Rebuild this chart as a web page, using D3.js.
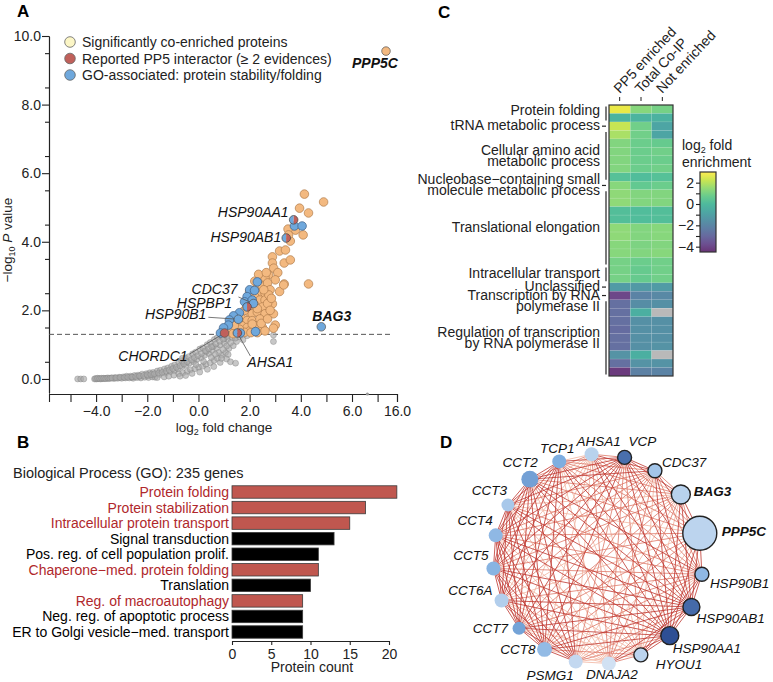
<!DOCTYPE html>
<html>
<head>
<meta charset="utf-8">
<script src="https://cdn.jsdelivr.net/npm/d3@7"></script>
<style>
body { margin: 0; background: #fff; }
svg { font-family: "Liberation Sans", Arial, Helvetica, sans-serif; }
</style>
</head>
<body>
<svg id="fig" width="773" height="682"></svg>
<script>
// ---------- A: volcano data, [log2 fold change, -log10 P] ----------
var legendLabels = ["Significantly co-enriched proteins",
                    "Reported PP5 interactor (\u2265 2 evidences)",
                    "GO-associated: protein stability/folding"];

var backgroundPoints = [
  [-4.72,0],[-4.6,0],[-4.48,0],[-4.06,0],[-3.98,0],[-3.9,0.01],[-3.82,0],[-3.74,0.01],[-3.66,0.01],
  [-3.58,0.02],[-3.5,0.01],[-3.3,0.01],[-3.15,0.02],[-3.0,0.02],[-2.85,0.03],[-2.7,0.03],[-2.55,0.02],
  [-2.4,0.04],[-2.25,0.03],[-2.1,0.05],[-1.95,0.04],[-1.8,0.06],[-1.7,0.05],
  [-3.4,0.03],[-3.26,0.04],[-3.1,0.05],[-2.94,0.06],[-2.81,0.08],[-2.66,0.08],[-2.5,0.1],[-2.36,0.11],
  [-2.2,0.14],[-2.04,0.15],[-1.9,0.18],[-1.77,0.19],[-1.61,0.23],[-1.49,0.25],[-1.33,0.29],[-1.2,0.32],
  [-1.05,0.37],[-0.93,0.41],[-0.77,0.48],[-0.66,0.53],[-0.51,0.61],[-0.38,0.65],[-0.23,0.73],[-0.11,0.78],
  [0.05,0.87],[0.17,0.91],[0.34,1.0],[0.46,1.06],[0.62,1.15],[0.73,1.2],[0.89,1.27],
  [-2.6,0.05],[-2.31,0.07],[-1.98,0.09],[-1.76,0.12],[-1.52,0.13],[-1.29,0.17],[-1.1,0.21],[-0.94,0.24],
  [-0.81,0.3],[-0.64,0.36],[-0.49,0.4],[-0.36,0.46],[-0.19,0.5],[-0.06,0.57],[0.11,0.62],[0.24,0.69],
  [0.41,0.74],[0.54,0.83],[0.71,0.9],[0.84,0.99],[1.01,1.05],[1.14,1.15],[1.31,1.21],
  [-1.61,0.04],[-1.34,0.06],[-1.16,0.08],[-0.96,0.11],[-0.77,0.15],[-0.61,0.18],[-0.44,0.22],[-0.31,0.27],
  [-0.14,0.3],[0.01,0.34],[0.16,0.37],[0.29,0.43],[0.46,0.47],[0.61,0.54],[0.74,0.6],[0.91,0.69],
  [1.06,0.77],[1.19,0.89],[1.36,0.97],[1.49,1.09],
  [0.2,0.51],[0.5,0.63],[0.79,0.77],[1.1,0.96],[1.26,1.06],[1.44,1.19],[1.61,1.23],[1.74,1.14],
  [1.9,1.26],[0.66,0.72],[0.96,0.86],[1.16,0.71],[-0.1,0.42],[0.3,0.8],[0.58,0.95],[1.0,1.18],
  [-4.02,0.01],[-3.94,0.02],[-3.86,0.01],[-3.78,0.02],[-3.7,0.02],[-3.62,0.01],[-3.54,0.03],[-3.46,0.02],
  [-3.38,0.03],[-3.22,0.03],[-3.06,0.04],[-2.9,0.04],[-2.76,0.05],[-2.6,0.06],[-2.45,0.07],[-2.3,0.09],
  [-2.14,0.1],[-2.0,0.12],[-1.86,0.13],[-1.72,0.15],[-1.56,0.17],[-1.42,0.19],[-1.26,0.23],[-1.14,0.26],
  [-1.0,0.3],[-0.86,0.34],[-0.72,0.38],[-0.57,0.44],[-0.44,0.5],[-0.28,0.56],[-0.16,0.62],[-0.02,0.68],
  [0.12,0.74],[0.27,0.82],[0.4,0.88],[0.52,0.94],[0.68,1.02],[0.83,1.1],[0.97,1.16],[1.12,1.24],
  [-0.72,0.08],[-0.5,0.1],[-0.25,0.16],[0.05,0.2],[0.35,0.28],[0.6,0.36],[0.85,0.48],[1.1,0.58],
  [-0.63,0.6],[0.9,0.6],[1.25,0.5],[1.45,0.46],[2.93,1.28],[2.93,1.09]
];

var enrichedPoints = [
  [4.14,5.39],[4.89,5.16],[3.95,4.98],[4.3,4.84],[3.79,4.34],[3.5,4.37],[4.09,4.2],[3.59,4.02],[3.52,4.2],
  [3.17,3.73],[3.4,3.76],[2.89,3.56],[2.89,3.38],[3.35,3.38],[3.59,3.47],[2.94,3.23],[3.1,3.1],[2.74,3.03],
  [2.42,3.0],[3.0,2.89],[3.35,2.77],[4.3,2.77],[3.17,2.55],[3.33,2.74],[2.89,2.19],[2.93,1.9],[3.0,1.57],
  [2.93,1.48],[2.5,2.9],[2.6,2.95],[2.3,2.7],[2.5,2.7],[2.7,2.8],[2.4,2.5],[2.6,2.5],[2.8,2.6],[2.2,2.4],
  [2.4,2.3],[2.6,2.3],[2.0,2.2],[2.2,2.15],[2.5,2.1],[2.7,2.2],[1.95,1.95],[2.1,1.9],[2.3,1.95],[2.6,1.9],
  [2.8,2.0],[1.7,1.75],[1.9,1.7],[2.1,1.7],[2.4,1.75],[2.2,1.55],[1.5,1.6],[1.7,1.55],[1.9,1.5],[2.5,1.5],
  [1.3,1.45],[1.5,1.4],[2.0,1.4],[2.3,1.35],[1.2,1.38],[1.8,1.36],[2.6,1.4],[2.1,1.6],[2.45,1.62],
  [2.3,2.05],[2.0,2.55],[2.2,2.85],[2.35,3.05],[2.65,3.1],[1.6,1.45],[1.4,1.55],[2.75,2.45],[2.55,2.6],
  [2.85,2.35],[2.7,1.75],[1.8,2.0],[2.05,1.35],[1.35,1.32]
];

var foldingPoints = [
  [3.75,4.46],[4.05,4.46],[2.3,2.83],[2.0,2.6],[2.19,2.58],[1.9,2.4],[1.8,2.25],[2.1,2.3],[1.6,1.93],
  [1.37,1.84],[1.21,1.72],[1.17,1.57],[0.98,1.49],[0.86,1.34],[1.64,1.34],[2.23,1.38]
];

var namedGenes = ["PPP5C","HSP90AA1","HSP90AB1","CDC37","HSPBP1","HSP90B1","CHORDC1","AHSA1","BAG3"];
var namedFC    = [10.9, 3.72, 3.43, 2.15, 1.9, 1.56, 1.02, 1.52, 4.8];
var namedP     = [9.56, 4.64, 4.11, 2.2, 2.1, 1.74, 1.34, 1.34, 1.52];
var namedKind  = ["enriched","both","both","folding","both","folding","interactor","both","folding"];

var fcTicks = [-5,-4,-3,-2,-1,0,1,2,3,4,5,6,7,16];
var fcTickLabels = [-4,-2,0,2,4,6,16];
var pTicks = [0,2,4,6,8,10];

// ---------- B: GO biological process ----------
var goTerms = ["Protein folding","Protein stabilization","Intracellular protein transport",
  "Signal transduction","Pos. reg. of cell population prolif.","Chaperone\u2212med. protein folding",
  "Translation","Reg. of macroautophagy","Neg. reg. of apoptotic process",
  "ER to Golgi vesicle\u2212med. transport"];
var goCounts  = [21,17,15,13,11,11,10,9,9,9];
var goFolding = [true,true,true,false,false,true,false,true,false,false];
var countTicks = [0,5,10,15,20];

// ---------- C: heatmap, log2 fold enrichment ----------
var heatColumns = ["PP5 enriched","Total Co-IP","Not enriched"];
var heatGroups = [["Protein folding"],["tRNA metabolic process"],["Cellular amino acid","metabolic process"],
  ["Nucleobase\u2212containing small","molecule metabolic process"],["Translational elongation"],
  ["Intracellular transport"],["Unclassified"],["Transcription by RNA","polymerase II"],
  ["Regulation of transcription","by RNA polymerase II"]];
var heatGroupRows = [2,1,6,1,9,2,1,1,9];
var pp5Enriched = [2.7,-0.2,2.2,1.8,1.2,1.2,1.2,1.2,0.3,1.3,1.4,1.4,0.2,0.2,1.4,1.4,1.3,1.3,1.0,1.0,1.0,
  -1.2,-4.0,-2.8,-2.8,-2.8,-2.9,-2.8,-2.8,-1.5,-2.8,-4.3];
var totalCoIP = [1.3,-0.2,0.9,0.9,0.8,0.8,0.8,0.8,0.1,0.6,1.2,1.2,0.1,0.1,1.2,1.2,1.1,1.2,0.8,0.7,0.7,
  -1.3,-2.1,-1.7,-0.4,-1.6,-1.6,-1.6,-1.6,-0.4,-1.5,-2.2];
var notEnriched = [1.0,-0.3,-0.8,-0.8,0.7,0.9,0.8,0.9,0.3,0.8,1.2,1.2,0.2,0.2,1.3,1.3,1.2,1.3,0.9,0.9,0.9,
  -1.2,-1.9,-1.6,null,-1.6,-1.6,-1.6,-1.5,null,-1.5,-2.1];
var colorTicks = [-4,-3,-2,-1,0,1,2];

// ---------- D: interaction network ----------
var netGenes = ["AHSA1","VCP","CDC37","BAG3","PPP5C","HSP90B1","HSP90AB1","HSP90AA1","HYOU1",
  "DNAJA2","PSMG1","CCT8","CCT7","CCT6A","CCT5","CCT4","CCT3","CCT2","TCP1"];
var netSize     = [49,49,49,90,289,49,72,81,49,49,49,56,42,49,49,49,42,72,49];
var netShade    = [0.22,0.78,0.32,0.22,0.2,0.42,0.8,0.92,0.2,0.1,0.17,0.4,0.55,0.25,0.45,0.42,0.3,0.56,0.5];
var netEnriched = [false,true,true,true,true,true,true,true,true,false,false,false,false,false,false,false,false,false,false];
// edge strength to every later gene (0 none, 1 weak, 2 medium, 3 strong)
var netEdges = ["231223312111111121","33233322233333333","2323312122222232","323312122122122",
  "33321122122122","3332122222232","333233333333","33233333333","2121111121","111111111",
  "33333333","3333333","333333","33333","3333","333","33","3"];

// ---------- drawing ----------
var svg = d3.select("#fig");
var ink = "#222";

function styleAxis(g, size) {
  g.attr("font-family", null).attr("font-size", size);
  g.selectAll("path, line").attr("stroke", ink).attr("stroke-width", 1.1);
  g.selectAll("text").attr("fill", ink);
}

[["A",17,17],["B",17,448],["C",438,18],["D",440,448]].forEach(function (l) {
  svg.append("text").attr("x", l[1]).attr("y", l[2]).attr("font-size", 17)
     .attr("font-weight", "bold").text(l[0]);
});

// ===== Panel A =====
var x = d3.scaleLinear().domain([-5.84, 7, 16]).range([49, 377.6, 397]);
var y = d3.scaleLinear().domain([-0.41, 10]).range([393, 36]);
var gA = svg.append("g");

var xAxis = gA.append("g").attr("transform", "translate(0,394)")
  .call(d3.axisBottom(x).tickValues(fcTicks).tickSizeOuter(0).tickSize(8).tickPadding(4)
    .tickFormat(function (d) { return fcTickLabels.indexOf(d) >= 0 ? d3.format(".1f")(d) : ""; }));
styleAxis(xAxis, 14);

var yMinor = gA.append("g").attr("transform", "translate(49,0)")
  .call(d3.axisLeft(y).tickValues(d3.range(0.5, 10, 1)).tickSize(4).tickFormat("").tickSizeOuter(0));
styleAxis(yMinor, 14);
var yAxis = gA.append("g").attr("transform", "translate(49,0)")
  .call(d3.axisLeft(y).tickValues(pTicks).tickSize(7).tickPadding(1).tickSizeOuter(0)
    .tickFormat(d3.format(".1f")));
styleAxis(yAxis, 14);

var yl = gA.append("text").attr("transform", "translate(12,240) rotate(-90)")
  .attr("text-anchor", "middle").attr("font-size", 13.5).attr("fill", ink);
yl.append("tspan").text("\u2212log");
yl.append("tspan").attr("font-size", 9).attr("dy", 3).text("10");
yl.append("tspan").attr("dy", -3).text(" ");
yl.append("tspan").attr("font-style", "italic").text("P");
yl.append("tspan").text(" value");

var xl = gA.append("text").attr("x", 224).attr("y", 432)
  .attr("text-anchor", "middle").attr("font-size", 13.5).attr("fill", ink);
xl.append("tspan").text("log");
xl.append("tspan").attr("font-size", 9).attr("dy", 3).text("2");
xl.append("tspan").attr("dy", -3).text(" fold change");

gA.append("line").attr("x1", 49).attr("x2", 390).attr("y1", y(1.3)).attr("y2", y(1.3))
  .attr("stroke", "#555").attr("stroke-width", 1).attr("stroke-dasharray", "5,3");

var colOrange = "#f3b980", colBlue = "#6fa8dc", colRed = "#c0605a", colYellow = "#fcf6c6";

gA.append("g").selectAll("circle").data(backgroundPoints).enter().append("circle")
  .attr("cx", function (d) { return x(d[0]); })
  .attr("cy", function (d) { return y(d[1]); })
  .attr("r", 3)
  .attr("fill", "#a9a9a9").attr("fill-opacity", 0.65)
  .attr("stroke", "#7d7d7d").attr("stroke-opacity", 0.65).attr("stroke-width", 0.6);

gA.append("circle").attr("cx", x(6.6)).attr("cy", 394).attr("r", 1.6).attr("fill", "#999");

gA.append("g").selectAll("circle").data(enrichedPoints).enter().append("circle")
  .attr("cx", function (d) { return x(d[0]); })
  .attr("cy", function (d) { return y(d[1]); })
  .attr("r", 4.3).attr("fill", colOrange).attr("stroke", "#b07c4c").attr("stroke-width", 0.7);

gA.append("g").selectAll("circle").data(foldingPoints).enter().append("circle")
  .attr("cx", function (d) { return x(d[0]); })
  .attr("cy", function (d) { return y(d[1]); })
  .attr("r", 4.3).attr("fill", colBlue).attr("stroke", "#3d5f85").attr("stroke-width", 0.7);

// labelled genes
var labelPos = {
  PPP5C: [-34, 17, "start"], HSP90AA1: [-5, -3, "end"], HSP90AB1: [-5, 4, "end"],
  CDC37: [-16, -9.5, "end"], HSPBP1: [-15, 1, "end"], HSP90B1: [-32, 0, "end"],
  CHORDC1: [-37, 28, "end"], AHSA1: [10, 34, "start"], BAG3: [-9, -6, "start"]
};
var leaderStart = { CDC37: [1, 3], HSP90B1: [2, -2], CHORDC1: [2, -7], AHSA1: [3, -11] };
var named = namedGenes.map(function (g, i) {
  return { gene: g, px: x(namedFC[i]), py: y(namedP[i]), kind: namedKind[i] };
});
var halfArc = d3.arc().innerRadius(0).outerRadius(4.3);

named.forEach(function (d) {
  var p = labelPos[d.gene];
  if (leaderStart[d.gene]) {
    var s = leaderStart[d.gene];
    gA.append("line").attr("x1", d.px + p[0] + s[0]).attr("y1", d.py + p[1] + s[1])
      .attr("x2", d.px).attr("y2", d.py).attr("stroke", "#555").attr("stroke-width", 0.8);
  }
});
named.forEach(function (d) {
  var g = gA.append("g").attr("transform", "translate(" + d.px + "," + d.py + ")");
  if (d.kind === "both") {
    g.append("path").attr("d", halfArc({ startAngle: Math.PI, endAngle: 2 * Math.PI })).attr("fill", colBlue);
    g.append("path").attr("d", halfArc({ startAngle: 0, endAngle: Math.PI })).attr("fill", colRed);
    g.append("circle").attr("r", 4.3).attr("fill", "none").attr("stroke", "#444").attr("stroke-width", 0.7);
  } else {
    var fill = d.kind === "enriched" ? colOrange : d.kind === "folding" ? colBlue : colRed;
    g.append("circle").attr("r", 4.3).attr("fill", fill).attr("stroke", "#555").attr("stroke-width", 0.7);
  }
});
named.forEach(function (d) {
  var p = labelPos[d.gene];
  gA.append("text").attr("x", d.px + p[0]).attr("y", d.py + p[1]).attr("text-anchor", p[2])
    .attr("font-size", 14).attr("font-style", "italic")
    .attr("font-weight", d.gene === "PPP5C" || d.gene === "BAG3" ? "bold" : null)
    .attr("fill", "#111").text(d.gene);
});

var legendFill = [colYellow, colRed, colBlue];
legendLabels.forEach(function (t, i) {
  gA.append("circle").attr("cx", 70).attr("cy", 42 + i * 16.5).attr("r", 5.3)
    .attr("fill", legendFill[i]).attr("stroke", "#666").attr("stroke-width", 0.8);
  gA.append("text").attr("x", 82).attr("y", 47 + i * 16.5).attr("font-size", 14)
    .attr("fill", ink).text(t);
});

// ===== Panel B =====
var gB = svg.append("g");
var xb = d3.scaleLinear().domain([0, 20]).range([232, 389]);
var yb = d3.scaleBand().domain(goTerms).range([485, 639]).paddingInner(0.2).paddingOuter(0.05);

gB.append("text").attr("x", 13).attr("y", 478).attr("font-size", 14.5).attr("fill", ink)
  .text("Biological Process (GO): 235 genes");

gB.selectAll("rect").data(goTerms).enter().append("rect")
  .attr("x", xb(0)).attr("y", function (d) { return yb(d); })
  .attr("width", function (d, i) { return xb(goCounts[i]) - xb(0); })
  .attr("height", yb.bandwidth())
  .attr("fill", function (d, i) { return goFolding[i] ? "#c0574f" : "#000"; })
  .attr("stroke", "#3a3a3a").attr("stroke-width", 0.8);

gB.selectAll("text.term").data(goTerms).enter().append("text").attr("class", "term")
  .attr("x", 229).attr("y", function (d) { return yb(d) + yb.bandwidth() / 2 + 5; })
  .attr("text-anchor", "end").attr("font-size", 14)
  .attr("fill", function (d, i) { return goFolding[i] ? "#b0282c" : "#000"; })
  .text(function (d) { return d; });

var xbAxis = gB.append("g").attr("transform", "translate(0,641)")
  .call(d3.axisBottom(xb).tickValues(countTicks).tickSize(4).tickPadding(4).tickSizeOuter(0));
styleAxis(xbAxis, 14);
gB.append("text").attr("x", 312).attr("y", 672).attr("text-anchor", "middle")
  .attr("font-size", 14).attr("fill", ink).text("Protein count");

// ===== Panel C =====
var gC = svg.append("g");
var nRows = pp5Enriched.length;
var hx = d3.scaleBand().domain(heatColumns).range([609, 673]);
var hy = d3.scaleBand().domain(d3.range(nRows)).range([105, 376]);
var heatColor = d3.scaleSequential(d3.interpolateViridis).domain([-4.5, 3]);
var heatValues = [pp5Enriched, totalCoIP, notEnriched];

heatColumns.forEach(function (c, ci) {
  gC.append("g").selectAll("rect").data(heatValues[ci]).enter().append("rect")
    .attr("x", hx(c)).attr("y", function (d, r) { return hy(r); })
    .attr("width", hx.bandwidth()).attr("height", hy.bandwidth())
    .attr("fill", function (d) { return d === null ? "#b9b9b9" : heatColor(d); })
    .attr("fill-opacity", function (d) { return d === null ? 1 : 0.8; })
    .attr("stroke", "#fff").attr("stroke-opacity", 0.18).attr("stroke-width", 0.5);
  gC.append("line").attr("x1", hx(c) + hx.bandwidth() / 2).attr("x2", hx(c) + hx.bandwidth() / 2)
    .attr("y1", 97).attr("y2", 101).attr("stroke", ink).attr("stroke-width", 1);
  gC.append("text")
    .attr("transform", "translate(" + (hx(c) + hx.bandwidth() / 2) + ",94) rotate(-47)")
    .attr("font-size", 14).attr("fill", ink).text(c);
});
gC.append("rect").attr("x", 609).attr("y", 105).attr("width", 64).attr("height", 271)
  .attr("fill", "none").attr("stroke", "#333").attr("stroke-width", 1.2);

var rowStart = 0;
var groupShift = { 0: -2.5, 7: 5 };
heatGroups.forEach(function (lines, gi) {
  var n = heatGroupRows[gi];
  var top = hy(rowStart), bottom = hy(rowStart + n - 1) + hy.bandwidth();
  var mid = (top + bottom) / 2;
  if (n > 1) {
    gC.append("line").attr("x1", 606).attr("x2", 606).attr("y1", top + 1.5).attr("y2", bottom - 1.5)
      .attr("stroke", ink).attr("stroke-width", 1.2);
  } else {
    gC.append("line").attr("x1", 602).attr("x2", 606).attr("y1", mid).attr("y2", mid)
      .attr("stroke", ink).attr("stroke-width", 1.2);
  }
  var shift = groupShift[gi] || 0;
  lines.forEach(function (t, li) {
    var base = lines.length === 1 ? mid + 4 : mid - 1 + li * 11;
    gC.append("text").attr("x", 600).attr("y", base + shift).attr("text-anchor", "end")
      .attr("font-size", 14).attr("fill", ink).text(t);
  });
  rowStart += n;
});

// colour bar
var cb = d3.scaleLinear().domain([-4.5, 3]).range([252, 172]);
var grad = svg.append("defs").append("linearGradient").attr("id", "vir")
  .attr("x1", 0).attr("x2", 0).attr("y1", 1).attr("y2", 0);
d3.range(0, 1.0001, 0.1).forEach(function (t) {
  grad.append("stop").attr("offset", t).attr("stop-color", heatColor(-4.5 + t * 7.5));
});
gC.append("rect").attr("x", 700).attr("y", 172).attr("width", 16).attr("height", 80)
  .attr("fill", "url(#vir)").attr("fill-opacity", 0.8)
  .attr("stroke", "#333").attr("stroke-width", 1.2);
var cbAxis = gC.append("g").attr("transform", "translate(700,0)")
  .call(d3.axisLeft(cb).tickValues(colorTicks).tickSize(4).tickPadding(2).tickSizeOuter(0)
    .tickFormat(function (d) { return d % 2 === 0 ? d3.format("d")(d) : ""; }));
styleAxis(cbAxis, 14);
cbAxis.select(".domain").remove();
var cbt = gC.append("text").attr("x", 682).attr("y", 150).attr("font-size", 14).attr("fill", ink);
cbt.append("tspan").text("log");
cbt.append("tspan").attr("font-size", 9).attr("dy", 3).text("2");
cbt.append("tspan").attr("dy", -3).text(" fold");
gC.append("text").attr("x", 682).attr("y", 167).attr("font-size", 14).attr("fill", ink).text("enrichment");

// ===== Panel D =====
var gD = svg.append("g");
var rNode = d3.scaleSqrt().domain([0, 289]).range([0, 17]);
var nodeColor = d3.scaleLinear().domain([0, 0.5, 1]).range(["#e6eef8", "#7eaee0", "#1f3d85"]);
// angular spacing grows with node size so large nodes get more room
var arcLen = [0];
netGenes.forEach(function (g, i) {
  var j = (i + 1) % netGenes.length;
  arcLen.push(arcLen[i] + 27 + rNode(netSize[i]) + rNode(netSize[j]));
});
var angle = d3.scaleLinear().domain([0, arcLen[arcLen.length - 1]]).range([-93.5, 266.5]);
var cx = 598, cy = 559, R = 105;
var nodes = netGenes.map(function (g, i) {
  var a = angle(arcLen[i]) * Math.PI / 180;
  return { gene: g, x: cx + R * Math.cos(a), y: cy + R * Math.sin(a), r: rNode(netSize[i]),
           fill: nodeColor(netShade[i]), ring: netEnriched[i] };
});

var edges = [];
netEdges.forEach(function (row, i) {
  row.split("").forEach(function (w, k) {
    if (+w > 0) edges.push({ s: nodes[i], t: nodes[i + k + 1], w: +w });
  });
});
edges.sort(function (a, b) { return a.w - b.w; });
var edgeColor = ["none", "#f2b9a6", "#df7a6a", "#c0372f"];
var edgeOpacity = [0, 0.9, 0.85, 0.85];
gD.selectAll("line").data(edges).enter().append("line")
  .attr("x1", function (d) { return d.s.x; }).attr("y1", function (d) { return d.s.y; })
  .attr("x2", function (d) { return d.t.x; }).attr("y2", function (d) { return d.t.y; })
  .attr("stroke", function (d) { return edgeColor[d.w]; })
  .attr("stroke-opacity", function (d) { return edgeOpacity[d.w]; })
  .attr("stroke-width", 0.95);

gD.selectAll("circle").data(nodes).enter().append("circle")
  .attr("cx", function (d) { return d.x; }).attr("cy", function (d) { return d.y; })
  .attr("r", function (d) { return d.r; })
  .attr("fill", function (d) { return d.fill; })
  .attr("stroke", function (d) { return d.ring ? "#222" : "none"; })
  .attr("stroke-width", 1.4);

var netLabel = {
  AHSA1: [7, -8, "middle"], VCP: [4, -11, "start"], CDC37: [7, -4, "start"], BAG3: [13, 2, "start"],
  PPP5C: [22, 3, "start"], HSP90B1: [8, 14, "start"], HSP90AB1: [5, 16, "start"],
  HSP90AA1: [3, 17, "start"], HYOU1: [15, 14, "start"], DNAJA2: [3, 16, "middle"],
  PSMG1: [-2, 18, "end"], CCT8: [-9, 5, "end"], CCT7: [-11, 5, "end"], CCT6A: [-9, -6, "end"],
  CCT5: [-5, -8, "end"], CCT4: [-3, -10, "end"], CCT3: [-1, -10, "end"], CCT2: [8, -12, "end"],
  TCP1: [-2, -8, "middle"]
};
nodes.forEach(function (d) {
  var p = netLabel[d.gene];
  gD.append("text").attr("x", d.x + p[0]).attr("y", d.y + p[1]).attr("text-anchor", p[2])
    .attr("font-size", 13.5).attr("font-style", "italic")
    .attr("font-weight", d.gene === "PPP5C" || d.gene === "BAG3" ? "bold" : null)
    .attr("fill", "#111").text(d.gene);
});
</script>
</body>
</html>
